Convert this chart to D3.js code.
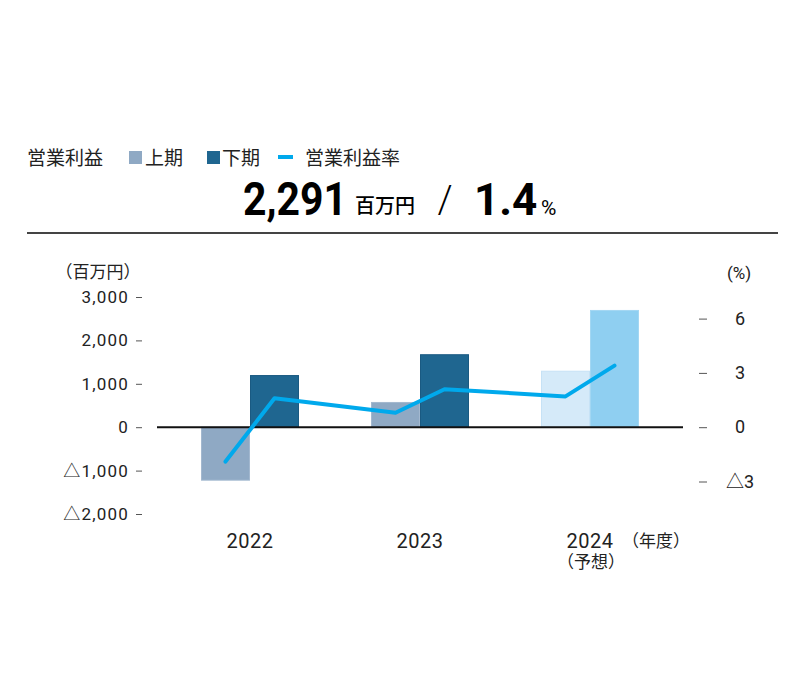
<!DOCTYPE html>
<html><head><meta charset="utf-8">
<script src="https://cdn.jsdelivr.net/npm/d3@7"></script>
<style>
html,body{margin:0;padding:0;background:#fff;}
svg text{font-family:"Roboto","Noto Sans CJK JP",sans-serif;fill:#222;}
</style></head>
<body><svg id="c" width="800" height="700"></svg>
<script>
const years = ['2022','2023','2024'];
const halves = ['上期','下期'];
const firstHalf = [-1220, 570, 1290];
const secondHalf = [1190, 1670, 2690];
const marginRate = [-1.9, 1.6, 0.8, 2.1, 1.7, 3.4];
const leftTicks = [-2000,-1000,0,1000,2000,3000];
const rightTicks = [-3,0,3,6];
const headlineValue = '2,291';
const headlineRate = '1.4';

const svg = d3.select('#c');
const colH1 = '#8fa9c4', colH2 = '#1f6690', colH1f = '#d5eaf9', colH2f = '#8fcff1', colLine = '#00a9ec';

// header legend
svg.append('text').attr('x',27).attr('y',165).attr('font-size',19).text('営業利益');
svg.append('rect').attr('x',129).attr('y',151).attr('width',13).attr('height',13).attr('fill',colH1);
svg.append('text').attr('x',145).attr('y',165).attr('font-size',19).text(halves[0]);
svg.append('rect').attr('x',207).attr('y',151).attr('width',13).attr('height',13).attr('fill',colH2);
svg.append('text').attr('x',222).attr('y',165).attr('font-size',19).text(halves[1]);
svg.append('line').attr('x1',278).attr('x2',293).attr('y1',157).attr('y2',157).attr('stroke',colLine).attr('stroke-width',4);
svg.append('text').attr('x',305).attr('y',165).attr('font-size',19).text('営業利益率');

// headline
svg.append('text').attr('x',243).attr('y',215).attr('font-size',46).attr('font-weight',700)
  .attr('textLength',104).attr('lengthAdjust','spacingAndGlyphs').style('fill','#000').text(headlineValue);
svg.append('text').attr('x',355).attr('y',213).attr('font-size',20).attr('font-weight',500).style('fill','#000').text('百万円');
svg.append('text').attr('x',445).attr('y',213).attr('text-anchor','middle').attr('font-size',38).attr('font-weight',300).style('fill','#000').text('/');
svg.append('text').attr('x',474).attr('y',215).attr('font-size',44).attr('font-weight',700).style('fill','#000').text(headlineRate);
svg.append('text').attr('x',541).attr('y',215).attr('font-size',21).style('fill','#000').text('%');
svg.append('line').attr('x1',27).attr('x2',778).attr('y1',233).attr('y2',233).attr('stroke','#444').attr('stroke-width',2);

// scales
const y = d3.scaleLinear().domain([-2000,3000]).range([514,297]);
const zeroY = y(0);
const yR = d3.scaleLinear().domain([-3,6]).range([zeroY+54.3, zeroY-108.6]);
const x0 = d3.scaleBand().domain(years).range([165,675]);
const x1 = d3.scaleBand().domain(halves).range([36,134]);

// axis labels
svg.append('text').attr('x',98).attr('y',278).attr('text-anchor','middle').attr('font-size',17).text('（百万円）');
svg.append('text').attr('x',739).attr('y',279).attr('text-anchor','middle').attr('font-size',17).text('(%)');

const fmtL = d => (d<0?'△':'') + d3.format(',')(Math.abs(d));
const fmtR = d => (d<0?'△':'') + Math.abs(d);

const gL = svg.append('g').attr('transform','translate(142,0)')
  .call(d3.axisLeft(y).tickValues(leftTicks).tickFormat(fmtL).tickSize(6).tickPadding(7));
gL.select('.domain').remove();
gL.selectAll('.tick line').attr('stroke','#555');
gL.selectAll('.tick text').attr('font-size',17).attr('letter-spacing','1.2px').attr('fill','#222').style('font-family','Roboto,"Noto Sans CJK JP",sans-serif');

const gR = svg.append('g').attr('transform','translate(699,0)')
  .call(d3.axisRight(yR).tickValues(rightTicks).tickFormat(fmtR).tickSize(8).tickPadding(33));
gR.select('.domain').remove();
gR.selectAll('.tick line').attr('stroke','#555');
gR.selectAll('.tick text').attr('font-size',18).attr('text-anchor','middle').attr('x',41).attr('fill','#222').style('font-family','Roboto,"Noto Sans CJK JP",sans-serif');

// bars
const barData = [];
years.forEach((yr,i)=>{
  barData.push({year:yr, half:halves[0], v:firstHalf[i], fill: i===2?colH1f:colH1, stroke: i===2?'#c6e2f6':'#a3b8cf'});
  barData.push({year:yr, half:halves[1], v:secondHalf[i], fill: i===2?colH2f:colH2, stroke: i===2?'#a3d7f3':'#1a5a82'});
});
svg.append('g').selectAll('rect').data(barData).join('rect')
  .attr('x', d=>x0(d.year)+x1(d.half)+0.5)
  .attr('width', x1.bandwidth()-1)
  .attr('y', d=>Math.min(y(d.v), zeroY))
  .attr('height', d=>Math.abs(y(d.v)-zeroY))
  .attr('fill', d=>d.fill).attr('stroke', d=>d.stroke).attr('stroke-width',1);

// zero line
svg.append('line').attr('x1',157).attr('x2',683).attr('y1',zeroY).attr('y2',zeroY).attr('stroke','#111').attr('stroke-width',2);

// rate line
const pts = barData.map((d,i)=>[x0(d.year)+x1(d.half)+x1.bandwidth()/2, yR(marginRate[i])]);
svg.append('path').attr('d', d3.line()(pts)).attr('fill','none').attr('stroke',colLine)
  .attr('stroke-width',4).attr('stroke-linecap','round').attr('stroke-linejoin','round');

// x labels
years.forEach(yr=>{
  svg.append('text').attr('x', x0(yr)+x0.bandwidth()/2).attr('y',548).attr('text-anchor','middle')
    .attr('font-size',20).attr('letter-spacing','0.5px').text(yr);
});
svg.append('text').attr('x',591).attr('y',568).attr('text-anchor','middle').attr('font-size',17).text('（予想）');
svg.append('text').attr('x',656).attr('y',547).attr('text-anchor','middle').attr('font-size',17).text('（年度）');
</script></body></html>
